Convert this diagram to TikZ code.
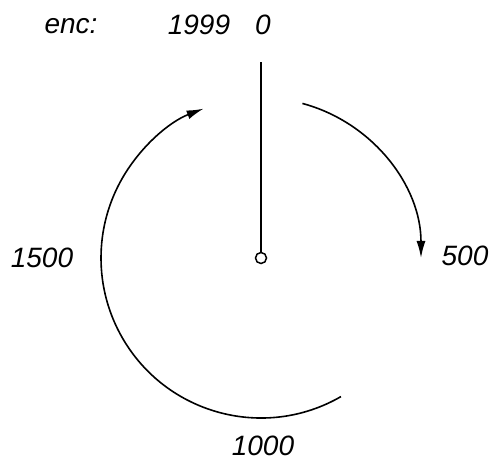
\documentclass[tikz,border=0pt]{standalone}
\usepackage{fontspec}
\setmainfont{Liberation Sans}
\usetikzlibrary{arrows.meta}

\begin{document}
\begin{tikzpicture}[x=1pt, y=1pt,
  every node/.style={font=\fontsize{28}{32}\selectfont\itshape, inner sep=0pt},
  dial/.style={line width=1.6pt, -{Latex[length=17pt, width=9pt]}}]
  \useasboundingbox (0,0) rectangle (501,-465);

  % Hub and zero mark
  \node[circle, draw, line width=1.5pt, minimum size=11pt] (hub) at (261,-258) {};
  \coordinate (top) at (261,-62);
  \draw[line width=1.6pt] (hub.north) -- (top);

  % Top labels
  \node (enc) at (71,-26) {enc:};
  \node (n1999) at (199,-25) {1999};
  \node (n0) at (263,-25) {0};

  % Position labels round the dial
  \node (n500) at (465,-256) {500};
  \node (n1000) at (263,-446) {1000};
  \node (n1500) at (42,-258) {1500};

  % Direction of travel
  \draw[dial] (hub) ++(75:160) arc[start angle=75, end angle=0, radius=160];
  \draw[dial] (hub) ++(-60:160) arc[start angle=-60, end angle=-249, radius=160];
\end{tikzpicture}
\end{document}
